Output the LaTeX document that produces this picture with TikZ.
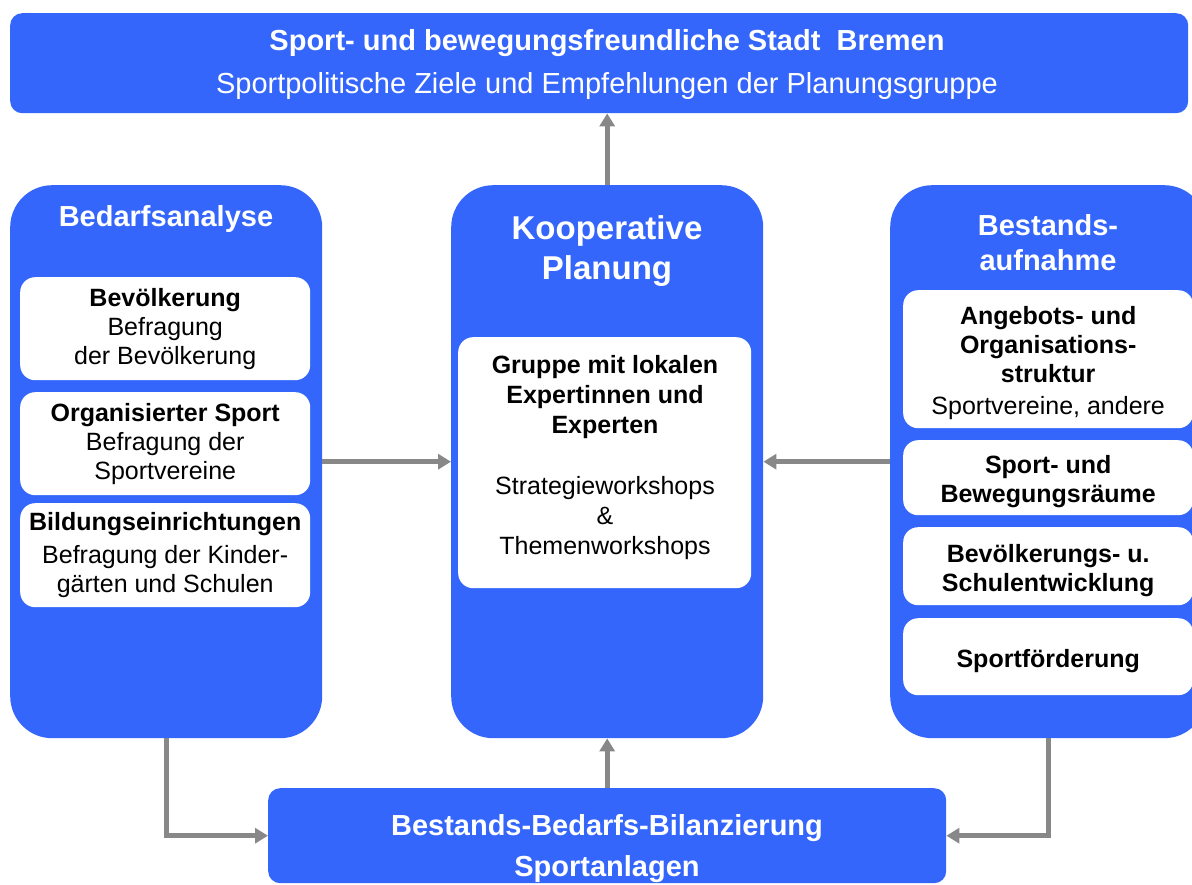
\documentclass[tikz,border=0pt]{standalone}
\usepackage{fontspec}
\setmainfont{Liberation Sans}
\usetikzlibrary{arrows.meta,positioning}
\definecolor{planblue}{RGB}{52,102,252}
\definecolor{arrowgray}{RGB}{136,136,136}

\begin{document}
\begin{tikzpicture}[x=1pt,y=-1pt,
  bluebox/.style={fill=planblue,rounded corners=#1,inner sep=0pt,anchor=north west},
  bluebox/.default=42pt,
  whitebox/.style={fill=white,rounded corners=15pt,inner sep=0pt,anchor=north west,
    font=\fontsize{25}{29}\selectfont,align=center},
  boxtext/.style={font=\fontsize{25}{29}\selectfont,align=center},
  headtext/.style={text=white,font=\bfseries\fontsize{29}{35}\selectfont,align=center},
  link/.style={draw=arrowgray,line width=5pt,-{Triangle[length=13pt,width=15pt]}}]
\useasboundingbox (0,0) rectangle (1192,885);
\clip (0,0) rectangle (1192,885);

% top and bottom
\node[bluebox=12pt,minimum width=1178pt,minimum height=100pt] (ziel) at (10,13) {};
\node[headtext] at (607,43) {Sport- und bewegungsfreundliche Stadt\ \ Bremen};
\node[text=white,font=\fontsize{29}{35}\selectfont] at (607,86) {Sportpolitische Ziele und Empfehlungen der Planungsgruppe};

\node[bluebox=12pt,minimum width=678pt,minimum height=95pt] (bilanz) at (268,788) {};
\node[headtext,font=\bfseries\fontsize{29}{41}\selectfont] at (607,849) {Bestands-Bedarfs-Bilanzierung\\Sportanlagen};

% Bedarfsanalyse
\node[bluebox,minimum width=312pt,minimum height=553pt] (bedarf) at (10,185) {};
\node[headtext] at (166,219) {Bedarfsanalyse};
\node[whitebox,minimum width=290pt,minimum height=103pt] (bev) at (20,277)
  {\textbf{Bevölkerung}\\Befragung\\der Bevölkerung};
\node[whitebox,minimum width=290pt,minimum height=103pt] (orga) at (20,392)
  {\textbf{Organisierter Sport}\\Befragung der\\Sportvereine};
\node[whitebox,minimum width=290pt,minimum height=104pt] (bildung) at (20,503)
  {\textbf{Bildungseinrichtungen}\\[4pt]Befragung der Kinder-\\gärten und Schulen};

% Kooperative Planung
\node[bluebox,minimum width=312pt,minimum height=553pt] (koop) at (451,185) {};
\node[headtext,font=\bfseries\fontsize{33}{40}\selectfont] at (607,251) {Kooperative\\Planung};
\node[whitebox,minimum width=293pt,minimum height=251pt] (gruppe) at (458,337) {};
\node[boxtext,font=\fontsize{25}{30}\selectfont] (gruppetext) at (605,458)
  {\textbf{Gruppe mit lokalen}\\\textbf{Expertinnen und}\\\textbf{Experten}\\[31pt]Strategieworkshops\\\&\\Themenworkshops};

% Bestandsaufnahme
\node[bluebox,minimum width=316pt,minimum height=553pt] (bestand) at (890,185) {};
\node[headtext] at (1048,243) {Bestands-\\aufnahme};
\foreach \nm/\ypos/\hgt/\txt in {
    angebot/290/138/{\textbf{Angebots- und}\\\textbf{Organisations-}\\\textbf{struktur}\\[3pt]Sportvereine, andere},
    raeume/440/75/{\textbf{Sport- und}\\\textbf{Bewegungsräume}},
    entw/527/78/{\textbf{Bevölkerungs- u.}\\\textbf{Schulentwicklung}},
    foerd/618/77/{\textbf{Sportförderung}}}
  {\node[whitebox,minimum width=290pt,minimum height=\hgt pt] (\nm) at (903,\ypos) {};
   \node[boxtext] (\nm text) at ([yshift=-4pt]\nm.center) {\txt};}

% connectors
\draw[link] (koop.north) -- (koop.north |- ziel.south);
\draw[link] (bedarf.east) -- (koop.west);
\draw[link] (bestand.west) -- (koop.east);
\draw[link] (bilanz.north) -- (koop.south);
\draw[link] (bedarf.south) |- (bilanz.west);
\draw[link] (bestand.south) |- (bilanz.east);
\end{tikzpicture}
\end{document}
